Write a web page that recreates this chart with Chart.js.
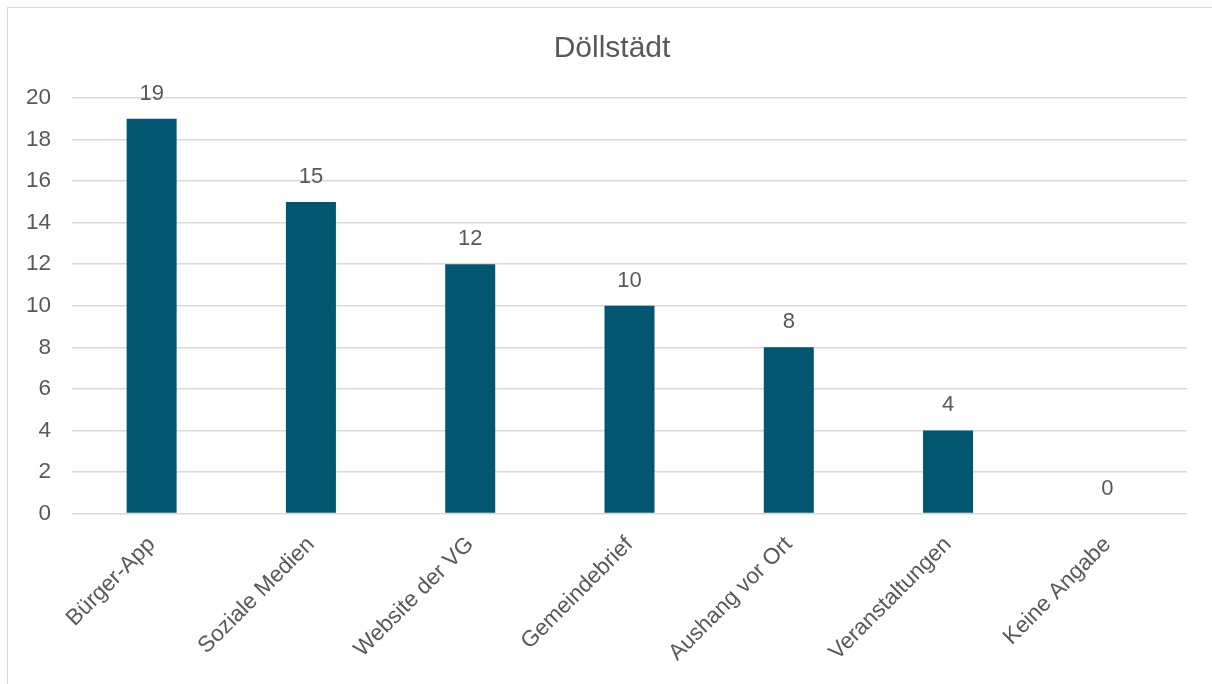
<!DOCTYPE html>
<html>
<head>
<meta charset="utf-8">
<script src="https://cdn.jsdelivr.net/npm/chart.js@4"></script>
<style>
  html, body { margin: 0; padding: 0; background: #fff; }
  #wrap { position: relative; width: 1212px; height: 684px; overflow: hidden; }
  #frame { position: absolute; left: 7px; top: 7px; width: 1220px; height: 700px; border: 1px solid #d9d9d9; }
  #box { position: absolute; left: 0; top: 0; width: 1212px; height: 684px; }
</style>
</head>
<body>
<div id="wrap">
  <div id="frame"></div>
  <div id="box"><canvas id="chart"></canvas></div>
</div>
<script>
const categories = [
    'Bürger-App',
    'Soziale Medien',
    'Website der VG',
    'Gemeindebrief',
    'Aushang vor Ort',
    'Veranstaltungen',
    'Keine Angabe',
];

const counts = [19, 15, 12, 10, 8, 4, 0];

const chartTitle = 'Döllstädt';

const yMin = 0;
const yMax = 20;
const yStep = 2;

const textColor = '#595959';
const fontFamily = '"Liberation Sans", Arial, sans-serif';

// number above each bar + the title (centred on the whole frame, not the plot)
const extraText = {
    id: 'extraText',
    afterDatasetsDraw(chart) {
        const ctx = chart.ctx;
        const meta = chart.getDatasetMeta(0);
        ctx.save();
        ctx.font = '22px ' + fontFamily;
        ctx.fillStyle = textColor;
        ctx.textAlign = 'center';
        ctx.textBaseline = 'middle';
        meta.data.forEach(function(bar, i) {
            ctx.fillText(String(counts[i]), bar.x, bar.y - 25);
        });
        ctx.font = '30px ' + fontFamily;
        ctx.textBaseline = 'alphabetic';
        ctx.fillText(chartTitle, 612, 57);
        ctx.restore();
    }
};

const data = {
    labels: categories,
    datasets: [{
        label: chartTitle,
        backgroundColor: '#02566f',
        data: counts,
        barPercentage: 0.314,
        categoryPercentage: 1.0,
    }]
};

const config = {
    type: 'bar',
    data: data,
    options: {
        responsive: true,
        maintainAspectRatio: false,
        animation: false,
        layout: {
            padding: { left: 0, right: 25, top: 98, bottom: 0 }
        },
        plugins: {
            legend: { display: false },
            tooltip: { enabled: false },
            title: { display: false }
        },
        scales: {
            x: {
                grid: { display: false },
                border: { display: false },
                ticks: {
                    color: textColor,
                    font: { family: fontFamily, size: 22.5 },
                    minRotation: 45,
                    maxRotation: 45,
                    padding: 10,
                    autoSkip: false
                },
                afterFit(scale) { scale.height = 170.5; }
            },
            y: {
                min: yMin,
                max: yMax,
                grid: { color: '#d9d9d9', lineWidth: 1.5, drawTicks: false },
                border: { display: false },
                ticks: {
                    stepSize: yStep,
                    color: textColor,
                    font: { family: fontFamily, size: 22.5 },
                    padding: 21
                },
                afterFit(scale) { scale.width = 72; }
            }
        }
    },
    plugins: [extraText]
};

const barChart = new Chart(
    document.getElementById('chart'),
    config
);
</script>
</body>
</html>
